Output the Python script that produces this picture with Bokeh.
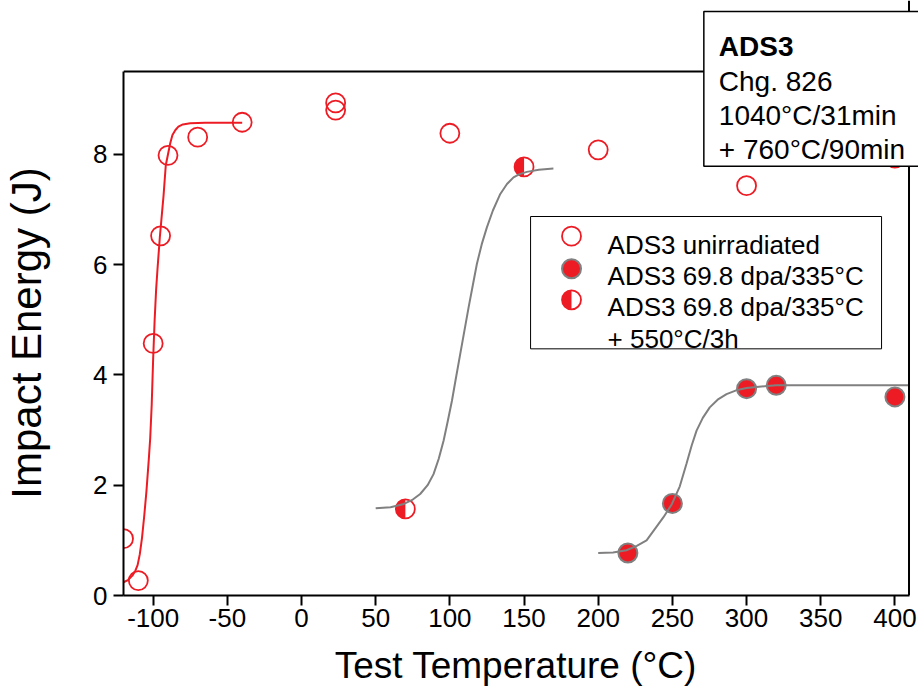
import math
from bokeh.plotting import figure
from bokeh.models import Label, BoxAnnotation, ColumnDataSource, FixedTicker, Span
from bokeh.embed import file_html
from bokeh.resources import INLINE

# ---------------- data ----------------
unirr_T = [-120, -110, -100, -95, -90, -70, -40, 23, 23, 100, 200, 300, 400]
unirr_E = [1.03, 0.27, 4.57, 6.52, 7.98, 8.31, 8.58, 8.93, 8.80, 8.38, 8.08, 7.43, 7.93]

irr_T = [220, 250, 300, 320, 400]
irr_E = [0.77, 1.67, 3.75, 3.81, 3.60]

ann_T = [70, 150]
ann_E = [1.57, 7.77]

# fitted curves, points
fit_unirr_T = [-120, -117, -114, -112, -110.5, -109, -107.5, -106, -104.5, -103, -102, -101,
               -100, -99, -98, -97, -95.5, -94, -93, -91.5, -90, -88.5, -87, -85, -83, -80,
               -75, -65, -50, -40]
fit_unirr_E = [0.24, 0.28, 0.36, 0.45, 0.55, 0.75, 1.05, 1.45, 1.9, 2.45, 2.85, 3.45,
               4.3, 5.0, 5.55, 5.95, 6.5, 6.95, 7.25, 7.8, 8.0, 8.2, 8.35, 8.44, 8.5, 8.54,
               8.56, 8.57, 8.57, 8.57]

fit_ann_T = [50, 60, 69, 75, 80, 85, 89, 92.5, 95.8, 98.5, 101.4, 104, 107, 110, 112.6,
             115.5, 118.2, 121.5, 124.9, 129, 134, 138.5, 142.9, 147, 151.9, 160, 169.8]
fit_ann_E = [1.58, 1.6, 1.66, 1.74, 1.84, 2.0, 2.2, 2.48, 2.81, 3.15, 3.53, 3.93, 4.38, 4.83,
             5.22, 5.63, 6.01, 6.37, 6.67, 6.98, 7.28, 7.46, 7.58, 7.64, 7.68, 7.72, 7.74]

fit_irr_T = [200, 210, 219, 226, 232.6, 238, 244, 249.7, 255, 259.5, 263, 266.3, 270.5,
             275.2, 280.5, 286.5, 293, 300, 310, 320, 340, 370, 409.5]
fit_irr_E = [0.77, 0.78, 0.82, 0.9, 1.0, 1.2, 1.42, 1.66, 1.98, 2.39, 2.72, 2.99, 3.22,
             3.41, 3.55, 3.65, 3.72, 3.76, 3.79, 3.81, 3.81, 3.81, 3.81]

x_ticks = [-100, -50, 0, 50, 100, 150, 200, 250, 300, 350, 400]
y_ticks = [0, 2, 4, 6, 8]

legend_labels = ["ADS3 unirradiated", "ADS3 69.8 dpa/335°C", "ADS3 69.8 dpa/335°C", "+ 550°C/3h"]
info_lines = ["ADS3", "Chg. 826", "1040°C/31min", "+ 760°C/90min"]

x_title = "Test Temperature (°C)"
y_title = "Impact Energy (J)"

# axes box limits (data units)
X_MIN, X_MAX = -120, 409.5
Y_MIN, Y_MAX = 0, 9.5

# ---------------- style ----------------
RED = "#ED1C24"
GREY = "#808080"
FONT = "Liberation Sans"
NBSP = "\u00a0"

p = figure(width=918, height=695, x_range=(-120, 415.9), y_range=(0, 10.787),
           output_backend="svg", toolbar_location=None,
           min_border_left=123, min_border_right=0, min_border_top=0, min_border_bottom=100)

p.xgrid.visible = False
p.ygrid.visible = False
p.outline_line_color = None

for ax in (p.xaxis[0], p.yaxis[0]):
    ax.axis_line_width = 2
    ax.axis_line_color = "black"
    ax.major_tick_line_width = 2
    ax.major_tick_line_color = "black"
    ax.major_tick_out = 10
    ax.major_tick_in = 0
    ax.minor_tick_line_color = None
    ax.major_label_text_font = FONT
    ax.major_label_text_font_size = "26px"
    ax.major_label_text_color = "black"
    ax.axis_label_text_font = FONT
    ax.axis_label_text_font_style = "normal"
    ax.axis_label_text_color = "black"

p.xaxis.ticker = FixedTicker(ticks=x_ticks)
p.yaxis.ticker = FixedTicker(ticks=y_ticks)
p.xaxis.major_label_overrides = {t: str(t) for t in x_ticks}
p.xaxis.bounds = (X_MIN, X_MAX)
p.yaxis.bounds = (Y_MIN, Y_MAX)
p.xaxis.major_label_standoff = 3
p.yaxis.major_label_standoff = 6
# trailing no-break spaces re-centre the titles on the axes box
p.xaxis.axis_label = x_title + NBSP
p.xaxis.axis_label_text_font_size = "37px"
p.xaxis.axis_label_standoff = 15
p.yaxis.axis_label = y_title + NBSP * 6
p.yaxis.axis_label_text_font_size = "42px"
p.yaxis.axis_label_standoff = 40

# frame lines (top and right)
p.add_layout(Span(location=Y_MAX, dimension="width", line_color="black", line_width=2))
p.add_layout(Span(location=X_MAX, dimension="height", line_color="black", line_width=2))

# ---------------- data glyphs ----------------
p.scatter(unirr_T, unirr_E, size=19, marker="circle", fill_color=None,
          line_color=RED, line_width=1.8)
p.scatter(irr_T, irr_E, size=19, marker="circle", fill_color=RED,
          line_color=GREY, line_width=2)
ann_src = ColumnDataSource(dict(x=ann_T, y=ann_E))
p.scatter("x", "y", source=ann_src, size=19, marker="circle", fill_color="white",
          line_color=RED, line_width=1.8)
p.wedge("x", "y", source=ann_src, radius=9.5, radius_units="screen",
        start_angle=math.pi / 2, end_angle=3 * math.pi / 2,
        fill_color=RED, line_color=None)

p.line(fit_unirr_T, fit_unirr_E, line_color=RED, line_width=2)
p.line(fit_ann_T, fit_ann_E, line_color=GREY, line_width=2)
p.line(fit_irr_T, fit_irr_E, line_color=GREY, line_width=2)

# ---------------- legend (drawn by hand) ----------------
leg_x_marker = 182.0
leg_rows = [6.514, 5.923, 5.361]
leg_text_x = 206.3
leg_text_y = [6.358, 5.789, 5.227, 4.654]

p.add_layout(BoxAnnotation(left=154.4, right=391.0, top=6.871, bottom=4.472,
                           fill_alpha=0, line_color="black", line_width=1, line_alpha=1))
p.scatter([leg_x_marker], [leg_rows[0]], size=19, marker="circle", fill_color=None,
          line_color=RED, line_width=1.8)
p.scatter([leg_x_marker], [leg_rows[1]], size=19, marker="circle", fill_color=RED,
          line_color=GREY, line_width=2)
p.wedge([leg_x_marker], [leg_rows[2]], radius=9.5, radius_units="screen",
        start_angle=math.pi / 2, end_angle=3 * math.pi / 2, fill_color=RED, line_color=None)
p.scatter([leg_x_marker], [leg_rows[2]], size=19, marker="circle", fill_color=None,
          line_color=RED, line_width=1.8)
for txt, yy in zip(legend_labels, leg_text_y):
    p.add_layout(Label(x=leg_text_x, y=yy, text=txt, text_font=FONT, text_font_size="26px",
                       text_color="black", text_baseline="alphabetic", text_align="left"))

# ---------------- info box ----------------
p.add_layout(BoxAnnotation(left=271.2, right=440, top=10.587, bottom=7.783,
                           fill_color="white", fill_alpha=1, line_color="black",
                           line_width=1.5, line_alpha=1))
info_y = [9.958, 9.318, 8.702, 8.086]
for i, (txt, yy) in enumerate(zip(info_lines, info_y)):
    p.add_layout(Label(x=281.3, y=yy, text=txt, text_font=FONT, text_font_size="28px",
                       text_font_style="bold" if i == 0 else "normal",
                       text_color="black", text_baseline="alphabetic", text_align="left"))

open("out.html", "w").write(file_html(p, INLINE))
